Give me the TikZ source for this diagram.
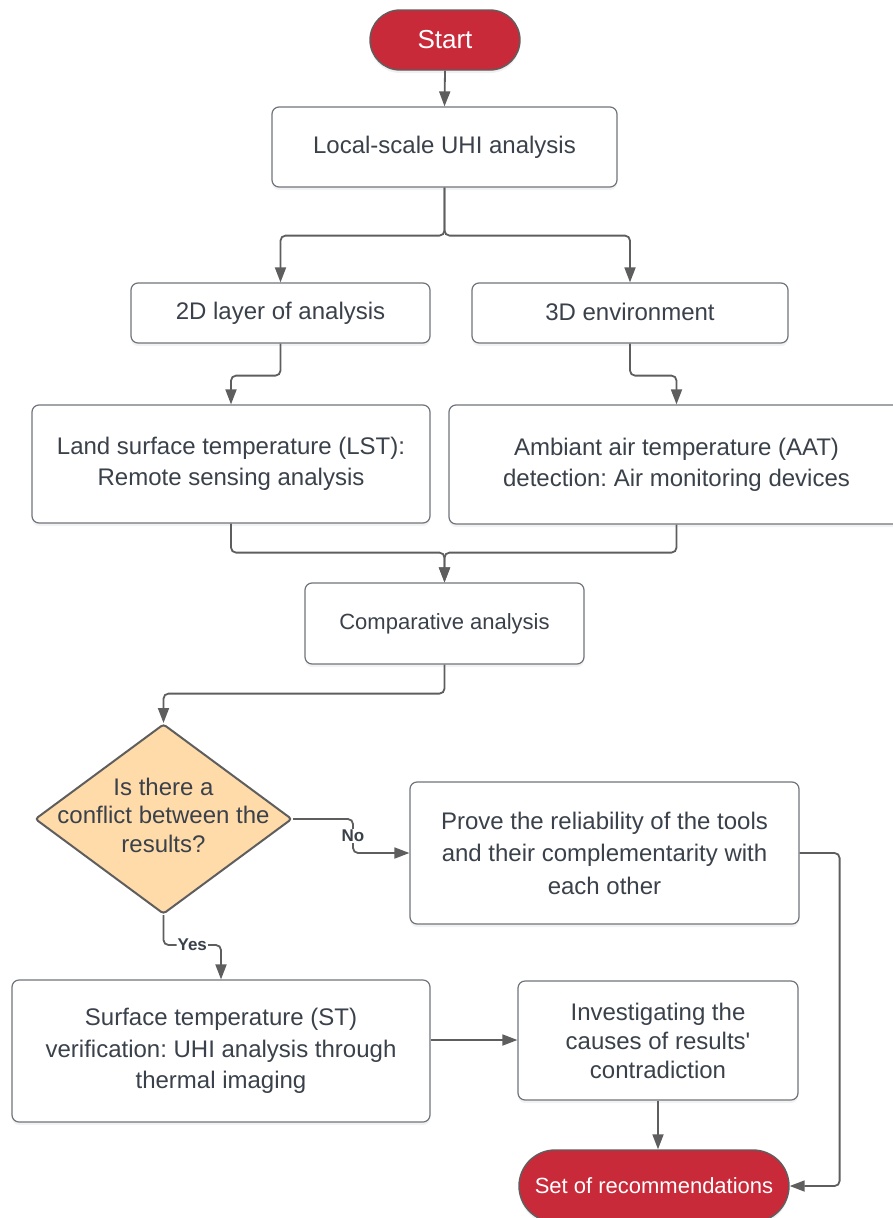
\documentclass[tikz,border=0pt]{standalone}
\usepackage{fontspec}
\setmainfont{Liberation Sans}[Ligatures=TeXOff]
\usetikzlibrary{arrows.meta,shapes.geometric,shapes.misc,shadows}
\definecolor{txt}{HTML}{3A414A}
\definecolor{edge}{HTML}{5E5E5E}
\definecolor{bord}{HTML}{70747A}
\definecolor{redfill}{HTML}{C92A39}
\definecolor{peach}{HTML}{FFDBA9}
\frenchspacing
\begin{document}
\begin{tikzpicture}[x=1pt,y=-1pt,
  box/.style={draw=bord, line width=1.2pt, rounded corners=7pt, fill=white,
    align=center, text=txt, inner sep=0pt,
    font=\fontsize{24}{31}\selectfont,
    drop shadow={opacity=0.10, shadow xshift=0pt, shadow yshift=-3pt}},
  term/.style={rounded rectangle, draw=edge, line width=1.4pt, fill=redfill,
    text=white, inner sep=0pt,
    drop shadow={opacity=0.12, shadow xshift=0pt, shadow yshift=-3pt}},
  decision/.style={diamond, draw=edge, line width=2pt, fill=peach, inner sep=0pt,
    rounded corners=3pt},
  conn/.style={draw=edge, line width=1.8pt, rounded corners=5pt,
    -{Triangle[length=15pt,width=11pt]}},
  lab/.style={fill=white, inner sep=1pt, text=txt,
    font=\bfseries\fontsize{17}{17}\selectfont}]
\useasboundingbox (0,0) rectangle (892,1218);

% nodes
\node[term, minimum width=150pt, minimum height=60pt, font=\fontsize{26}{30}\selectfont]
  (start) at (445,40) {Start};
\node[box, minimum width=345pt, minimum height=80pt] (local) at (444.5,147)
  {\raisebox{2pt}{Local-scale UHI analysis}};
\node[box, minimum width=299pt, minimum height=60pt] (twoD) at (280.5,313)
  {\raisebox{2pt}{2D layer of analysis}};
\node[box, minimum width=316pt, minimum height=60pt] (threeD) at (630,313)
  {\raisebox{3pt}{3D environment}};
\node[box, minimum width=398pt, minimum height=118pt] (lst) at (231,464)
  {Land surface temperature (LST):\\Remote sensing analysis};
\node[box, minimum width=455pt, minimum height=119pt] (aat) at (676.5,464.5)
  {Ambiant air temperature (AAT)\\detection: Air monitoring devices};
\node[box, minimum width=279pt, minimum height=81pt, font=\fontsize{22}{28}\selectfont]
  (comp) at (444.5,623.5) {\raisebox{1pt}{Comparative analysis}};
\node[decision, minimum width=257pt, minimum height=190pt] (dia) at (163.5,819) {};
\node[align=center, text=txt, inner sep=0pt, font=\fontsize{24}{28.5}\selectfont]
  (diatext) at (163.5,815) {Is there a\\conflict between the\\results?};
\node[box, minimum width=389pt, minimum height=142pt, font=\fontsize{24}{32.5}\selectfont]
  (prove) at (604.5,853) {Prove the reliability of the tools\\and their complementarity with\\each other};
\node[box, minimum width=418pt, minimum height=142pt, font=\fontsize{24}{31.5}\selectfont]
  (st) at (221,1051) {Surface temperature (ST)\\verification: UHI analysis through\\thermal imaging};
\node[box, minimum width=280pt, minimum height=119pt, font=\fontsize{24}{29}\selectfont]
  (inv) at (658,1040.5) {Investigating the\\causes of results'\\contradiction};
\node[term, minimum width=270pt, minimum height=72pt, font=\fontsize{22}{26}\selectfont]
  (rec) at (654,1186) {Set of recommendations};

% connectors
\draw[conn] (start.south) -- (local.north);
\draw[conn] (local.south) -- ++(0,48) -| (twoD.north);
\draw[conn] (local.south) -- ++(0,48) -| (threeD.north);
\draw[conn] (twoD.south) -- ++(0,32) -| (lst.north);
\draw[conn] (threeD.south) -- ++(0,32) -| (aat.north);
\draw[conn] (lst.south) -- ++(0,29) -| (comp.north);
\draw[conn] (aat.south) -- ++(0,28) -| (comp.north);
\draw[conn] (comp.south) -- ++(0,29) -| (dia.north);
\draw[conn] (dia.east) -- ++(60,0) |- node[lab, pos=0.25] {No} (prove.west);
\draw[conn] (dia.south) -- ++(0,30) -| node[lab, pos=0.25] {Yes} (st.north);
\draw[conn] ([yshift=0.5pt]inv.west -| st.east) -- ([yshift=0.5pt]inv.west);
\draw[conn] (inv.south) -- (inv.south |- rec.north);
\draw[conn] (prove.east) -- ++(40,0) |- (rec.east);
\end{tikzpicture}
\end{document}
